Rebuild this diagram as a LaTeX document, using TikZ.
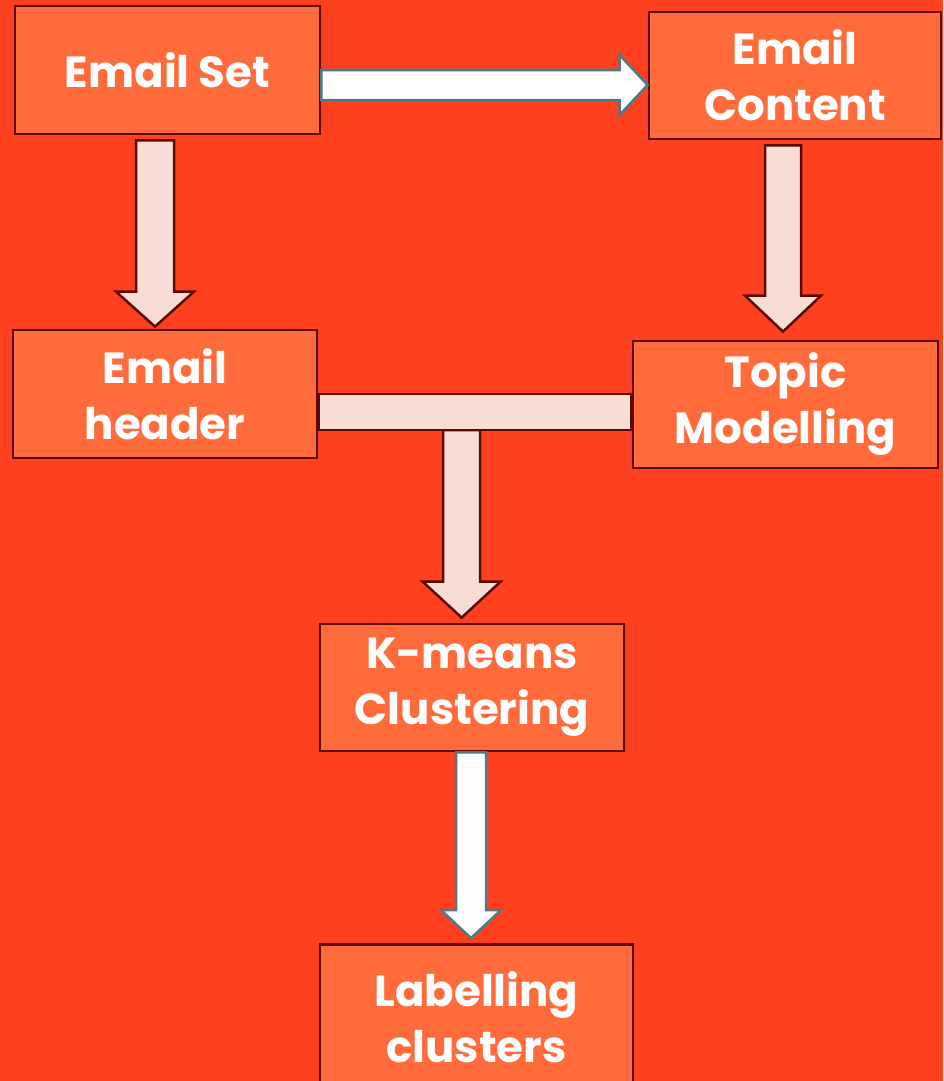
\documentclass[tikz,border=0pt]{standalone}
\usepackage{fontspec}
\setmainfont{Poppins}
\usetikzlibrary{calc}
\definecolor{bgred}{HTML}{FF401F}
\definecolor{boxfill}{HTML}{FF6B3B}
\definecolor{boxline}{HTML}{5C0A00}
\definecolor{pale}{HTML}{F7DDD3}
\definecolor{steel}{HTML}{4B7B8A}
% downward block arrow: style, top centre, tip, shaft half width, head half width, head length
\newcommand\downblock[6]{%
  \draw[#1] ($(#2)+(-#4,0)$) -- ($(#3)+(-#4,-#6)$) -- ($(#3)+(-#5,-#6)$) -- (#3)
    -- ($(#3)+(#5,-#6)$) -- ($(#3)+(#4,-#6)$) -- ($(#2)+(#4,0)$) -- cycle;}
\begin{document}
\begin{tikzpicture}[x=1pt,y=-1pt,
  box/.style={draw=boxline, line width=2.8pt, fill=boxfill, inner sep=0pt,
    text=white, font=\bfseries\fontsize{43.5}{56}\selectfont, align=center},
  palearrow/.style={draw=boxline, fill=pale, line width=2.5pt, line join=miter},
  whitearrow/.style={draw=steel, fill=white, line width=2.5pt, line join=miter}]
\fill[bgred] (0,0) rectangle (943,1081);
\useasboundingbox (0,0) rectangle (943,1081);

% process boxes
\node[box, minimum width=305pt, minimum height=128pt] (set) at (167.5,70) {Email Set};
\node[box, minimum width=292pt, minimum height=127pt] (content) at (795,75.5) {Email\\Content};
\node[box, minimum width=304pt, minimum height=128pt] (header) at (165,394) {Email\\header};
\node[box, minimum width=305pt, minimum height=127pt] (topic) at (785.5,404.5) {Topic\\Modelling};
\node[box, minimum width=304pt, minimum height=127pt] (kmeans) at (472,687.5) {K-means\\Clustering};
\node[box, minimum width=313pt, minimum height=145pt] (label) at (476.5,1017) {Labelling\\clusters};

% Email Set -> Email Content
\coordinate (h0) at ($(set.east)+(0,15)$);
\coordinate (h1) at (h0 -| content.west);
\draw[whitearrow] ($(h0)+(0,-15)$) -- ($(h1)+(-28,-15)$) -- ($(h1)+(-28,-30)$) -- (h1)
  -- ($(h1)+(-28,30)$) -- ($(h1)+(-28,15)$) -- ($(h0)+(0,15)$) -- cycle;

% Email Set -> Email header
\coordinate (d1s) at ($(set.south)+(-12.5,5)$);
\coordinate (d1t) at ($(d1s |- header.north)+(0,-2)$);
\downblock{palearrow}{d1s}{d1t}{19}{39}{35}

% Email Content -> Topic Modelling
\coordinate (d2s) at ($(content.south)+(-12,5)$);
\coordinate (d2t) at ($(d2s |- topic.north)+(0,-8)$);
\downblock{palearrow}{d2s}{d2t}{18}{38}{36}

% merge bar between Email header and Topic Modelling, then down to K-means
\coordinate (barend) at ($(topic.west)+(0,25.5)$);
\coordinate (d3s) at ($(header.east)!0.4573!(topic.west |- header.east)+(0,36)$);
\coordinate (d3t) at ($(d3s |- kmeans.north)+(0,-5)$);
\downblock{palearrow}{d3s}{d3t}{18.5}{39}{36}
\draw[palearrow] (header.east) rectangle (barend);

% K-means Clustering -> Labelling clusters
\coordinate (d4s) at ($(kmeans.south)+(-1,0)$);
\coordinate (d4t) at ($(d4s |- label.north)+(0,-5)$);
\downblock{whitearrow}{d4s}{d4t}{15}{30}{28}
\end{tikzpicture}
\end{document}
